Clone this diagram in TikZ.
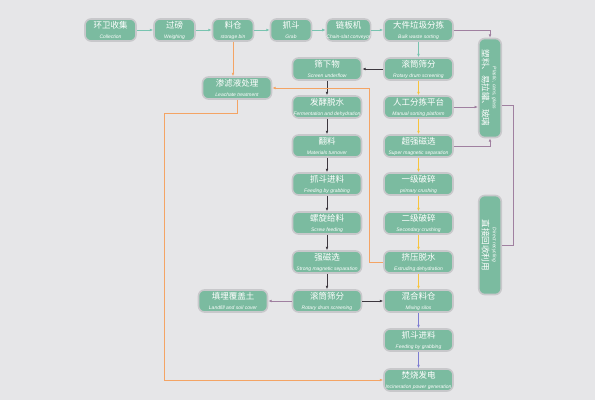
\documentclass[tikz,border=0pt]{standalone}
\usepackage{fontspec}
\setmainfont{Liberation Sans}
\newfontfamily\cjkfont{Noto Sans CJK SC}
\definecolor{swback}{RGB}{230,230,232}
\definecolor{swgreen}{RGB}{123,187,160}
\definecolor{swrim}{RGB}{200,200,203}
\definecolor{swteal}{RGB}{120,196,176}
\definecolor{swdark}{RGB}{60,55,62}
\definecolor{swyellow}{RGB}{248,196,60}
\definecolor{sworange}{RGB}{244,164,100}
\definecolor{swmauve}{RGB}{160,128,160}
\definecolor{swlilac}{RGB}{125,125,210}
\usetikzlibrary{arrows.meta,positioning,calc}
\newcommand{\stepname}[2]{{\cjkfont\fontsize{8.5}{9}\selectfont #1}\\[-2pt]{\fontsize{5}{5.5}\selectfont\itshape #2}}

\begin{document}
\begin{tikzpicture}[x=1pt, y=-1pt,
    box/.style={rectangle, rounded corners=6pt, fill=swgreen, draw=swrim,
                line width=1.6pt, minimum height=22pt, minimum width=69pt,
                inner sep=0pt, align=center, text=white},
    tall/.style={box, minimum width=22pt, minimum height=99pt},
    flow/.style={-{Latex[length=3.4pt,width=2.8pt]}, line width=0.8pt},
    tealflow/.style={flow, draw=swteal},
    darkflow/.style={flow, draw=swdark},
    yelflow/.style={flow, draw=swyellow},
    orgflow/.style={flow, draw=sworange},
    mauveflow/.style={flow, draw=swmauve},
    lilacflow/.style={flow, draw=swlilac}
  ]
    \fill[swback] (0,0) rectangle (595,400);

    % Top row
    \node[box, minimum width=51pt] (collect) at (110.5,30) {\stepname{环卫收集}{Collection}};
    \node[box, minimum width=41pt] (weigh)   at (174.5,30) {\stepname{过磅}{Weighing}};
    \node[box, minimum width=41pt] (bin)     at (233,30)   {\stepname{料仓}{storage bin}};
    \node[box, minimum width=41pt] (grab)    at (291,30)   {\stepname{抓斗}{Grab}};
    \node[box, minimum width=41pt] (chain)   at (348.5,30) {\stepname{链板机}{Chain-slat conveyor}};
    \node[box] (bulk) at (418.5,30) {\stepname{大件垃圾分拣}{Bulk waste sorting}};

    % Middle column
    \node[box] (under)   at (327,69)  {\stepname{筛下物}{Screen underflow}};
    \node[box] (ferment) at (327,107) {\stepname{发酵脱水}{Fermentation and dehydration}};
    \node[box] (turn)    at (327,146) {\stepname{翻料}{Materials turnover}};
    \node[box] (feedA)   at (327,184) {\stepname{抓斗进料}{Feeding by grabbing}};
    \node[box] (screw)   at (327,223) {\stepname{螺旋给料}{Screw feeding}};
    \node[box] (strong)  at (327,262) {\stepname{强磁选}{Strong magnetic separation}};
    \node[box] (drumB)   at (327,301) {\stepname{滚筒筛分}{Rotary drum screening}};

    % Right column
    \node[box] (drumA)    at (418.5,69)  {\stepname{滚筒筛分}{Rotary drum screening}};
    \node[box] (manual)   at (418.5,107) {\stepname{人工分拣平台}{Manual sorting platform}};
    \node[box] (supermag) at (418.5,146) {\stepname{超强磁选}{Super magnetic separation}};
    \node[box] (crushA)   at (418.5,184) {\stepname{一级破碎}{primary crushing}};
    \node[box] (crushB)   at (418.5,223) {\stepname{二级破碎}{Secondary crushing}};
    \node[box] (extrude)  at (418.5,262) {\stepname{挤压脱水}{Extruding dehydration}};
    \node[box] (silo)     at (418.5,301) {\stepname{混合料仓}{Mixing silos}};
    \node[box] (feedB)    at (418.5,340) {\stepname{抓斗进料}{Feeding  by grabbing}};
    \node[box] (burn)     at (418.5,380) {\stepname{焚烧发电}{Incineration power generation}};

    % Left side
    \node[box] (leach)    at (237,88)  {\stepname{渗滤液处理}{Leachate treatment}};
    \node[box] (landfill) at (233,301) {\stepname{填埋覆盖土}{Landfill and soil cover}};

    % Recycled outputs
    \node[tall] (plastic) at (490,88) {\rotatebox{-90}{\begin{tabular}{@{}c@{}}
        {\fontsize{5}{5.5}\selectfont\itshape Plastic, cans, glass}\\[-1.5pt]
        {\cjkfont\fontsize{8.5}{9}\selectfont 塑料、易拉罐、玻璃}\end{tabular}}};
    \node[tall] (direct) at (490,245) {\rotatebox{-90}{\begin{tabular}{@{}c@{}}
        {\fontsize{5}{5.5}\selectfont\itshape Direct recycling}\\[-1.5pt]
        {\cjkfont\fontsize{8.5}{9}\selectfont 直接回收利用}\end{tabular}}};

    % Connectors
    \draw[tealflow] (collect) -- (weigh);
    \draw[tealflow] (weigh) -- (bin);
    \draw[tealflow] (bin) -- (grab);
    \draw[tealflow] (grab) -- (chain);
    \draw[tealflow] (chain) -- (bulk);
    \draw[tealflow] (bulk) -- (drumA);

    \draw[darkflow] (drumA) -- (under);
    \draw[darkflow] (under) -- (ferment);
    \draw[darkflow] (ferment) -- (turn);
    \draw[darkflow] (turn) -- (feedA);
    \draw[darkflow] (feedA) -- (screw);
    \draw[darkflow] (screw) -- (strong);
    \draw[darkflow] (strong) -- (drumB);
    \draw[darkflow] (drumB) -- (silo);
    \draw[mauveflow] (drumB) -- (landfill);

    \draw[yelflow] (drumA) -- (manual);
    \draw[yelflow] (manual) -- (supermag);
    \draw[yelflow] (supermag) -- (crushA);
    \draw[yelflow] (crushA) -- (crushB);
    \draw[yelflow] (crushB) -- (extrude);
    \draw[yelflow] (extrude) -- (silo);
    \draw[lilacflow] (silo) -- (feedB);
    \draw[lilacflow] (feedB) -- (burn);

    \draw[mauveflow] (bulk.east) -| (plastic.north);
    \draw[mauveflow] (manual.east) -- (manual.east -| plastic.west);
    \draw[mauveflow] (supermag.east) -| (plastic.south);
    \coordinate (recyc) at (513,245);
    \draw[swmauve, line width=0.8pt] ([yshift=-17pt]plastic.east) -| (recyc) -- (direct.east);

    \coordinate (squeeze) at (369,88);
    \coordinate (drain) at (164,380);
    \draw[orgflow] (bin.south) -- (bin.south |- leach.north);
    \draw[orgflow] (extrude.west) -| (squeeze) -- (leach.east);
    \draw[orgflow] (leach.south) -- ++(0,14) -| (drain) -- (burn.west);
\end{tikzpicture}
\end{document}
